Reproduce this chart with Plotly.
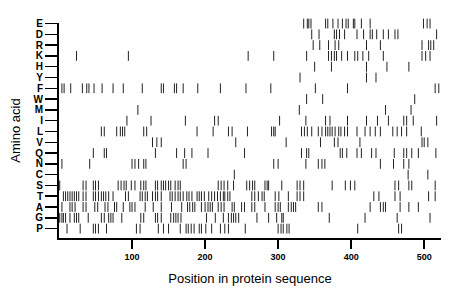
import plotly.graph_objects as go

amino_acids = ["P", "G", "A", "T", "S", "C", "N", "Q", "V", "L",
               "I", "M", "W", "F", "Y", "H", "K", "R", "D", "E"]

positions = {
    "E": [335, 340, 342, 345, 365, 368, 375, 382, 388, 393, 396, 403, 405, 414, 426, 499, 504, 508],
    "D": [346, 356, 377, 380, 384, 391, 408, 417, 426, 429, 435, 444, 451, 460, 464, 517],
    "R": [348, 357, 369, 378, 383, 421, 440, 497, 506, 509, 513],
    "K": [24, 95, 259, 294, 339, 369, 373, 377, 380, 387, 395, 405, 409, 416, 424, 444, 497, 502, 508],
    "H": [350, 373, 421, 449, 479],
    "Y": [330, 421, 434],
    "F": [4, 7, 16, 32, 38, 41, 48, 59, 74, 88, 114, 140, 143, 158, 161, 170, 190, 221, 256, 290, 351, 395, 515, 520],
    "W": [339, 361, 487],
    "M": [108, 329, 447, 482],
    "I": [93, 126, 173, 213, 218, 302, 338, 365, 371, 395, 421, 436, 451, 472, 476, 485, 517],
    "L": [58, 62, 79, 84, 87, 90, 116, 120, 189, 211, 232, 237, 258, 291, 294, 296, 332, 336, 340, 346,
          355, 360, 365, 368, 371, 374, 378, 383, 386, 391, 395, 408, 419, 426, 433, 440, 457, 463, 469, 476, 496],
    "V": [128, 134, 140, 242, 311, 358, 377, 382, 412, 497, 500, 505],
    "Q": [47, 62, 65, 132, 161, 172, 182, 204, 254, 332, 339, 342, 385, 388, 394, 408, 414, 428, 434, 459,
          472, 476, 483, 492, 516],
    "N": [4, 42, 100, 104, 109, 116, 119, 170, 174, 294, 300, 338, 355, 360, 364, 440, 458, 472, 479],
    "C": [240, 478, 505],
    "S": [1, 33, 37, 47, 50, 54, 81, 85, 89, 92, 99, 104, 112, 116, 119, 132, 135, 140, 143, 146, 150, 153,
          159, 163, 166, 218, 222, 226, 231, 239, 257, 261, 265, 268, 282, 285, 287, 305, 326, 330, 335,
          374, 392, 399, 405, 460, 465, 479, 483, 515],
    "T": [6, 9, 12, 15, 18, 21, 24, 27, 33, 37, 47, 50, 54, 58, 61, 64, 68, 74, 91, 95, 111, 114, 118, 121,
          128, 132, 135, 140, 152, 155, 159, 163, 166, 170, 175, 178, 182, 189, 192, 195, 199, 205, 209,
          213, 217, 221, 225, 227, 231, 234, 264, 268, 273, 278, 281, 296, 301, 314, 326, 330, 335, 431,
          438, 460, 467, 506, 515],
    "A": [4, 15, 18, 22, 33, 37, 49, 53, 63, 67, 76, 79, 88, 97, 100, 104, 118, 129, 140, 154, 168, 176,
          179, 183, 186, 195, 200, 204, 207, 210, 218, 222, 226, 237, 240, 250, 254, 264, 268, 282, 296,
          300, 303, 314, 318, 321, 324, 355, 360, 426, 440, 444, 447, 467, 479, 492],
    "G": [1, 4, 6, 9, 15, 21, 24, 27, 40, 58, 62, 68, 71, 74, 86, 112, 116, 132, 135, 140, 153, 157, 160,
          163, 167, 202, 214, 225, 232, 236, 239, 242, 246, 271, 287, 298, 305, 307, 370, 419, 463, 508],
    "P": [11, 29, 47, 50, 54, 65, 106, 111, 136, 143, 150, 166, 174, 177, 181, 185, 192, 195, 201, 209,
          221, 227, 232, 255, 300, 304, 307, 312, 315, 409, 465, 469],
}

x_ticks = [100, 200, 300, 400, 500]
seq_length = 523

xs, ys = [], []
for aa in amino_acids:
    for p in positions[aa]:
        xs.append(p)
        ys.append(aa)

fig = go.Figure(go.Scatter(
    x=xs, y=ys, mode="markers", cliponaxis=False,
    marker=dict(symbol="line-ns-open", size=7, color="#222222",
                line=dict(width=1, color="#222222")),
    hoverinfo="skip", showlegend=False,
))

fig.update_layout(
    width=460, height=299,
    margin=dict(l=59, r=19, t=23, b=61, autoexpand=False),
    paper_bgcolor="white", plot_bgcolor="white",
    hovermode=False,
    font=dict(family="Liberation Sans, Arial, sans-serif", color="black"),
)

fig.update_xaxes(
    range=[0, seq_length], tickvals=x_ticks, ticktext=[str(v) for v in x_ticks],
    showgrid=False, zeroline=False, showline=True, linecolor="black", linewidth=2,
    ticks="outside", ticklen=9, tickwidth=1.5, tickcolor="black",
    tickfont=dict(size=9, weight="bold"), automargin=False, fixedrange=True,
    title=dict(text="Position in protein sequence", font=dict(size=13), standoff=13),
)

fig.update_yaxes(
    type="category", categoryorder="array", categoryarray=amino_acids,
    tickmode="array", tickvals=amino_acids, ticktext=amino_acids,
    range=[-0.87, 19.05], automargin=False, fixedrange=True,
    showgrid=False, zeroline=False, showline=True, linecolor="black", linewidth=2,
    ticks="outside", ticklen=12, tickwidth=1.5, tickcolor="black",
    tickfont=dict(size=10, weight="bold"),
    title=dict(text="Amino acid", font=dict(size=13), standoff=10),
)

fig.write_html("out.html",
               config={"displayModeBar": False, "staticPlot": True},
               post_script="document.body.style.margin='0';document.body.style.overflow='hidden';")
